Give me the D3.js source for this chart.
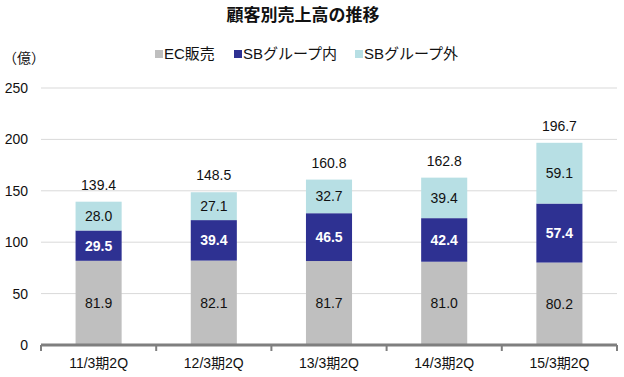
<!DOCTYPE html>
<html>
<head>
<meta charset="utf-8">
<script src="https://cdn.jsdelivr.net/npm/d3@7"></script>
<style>
body { margin: 0; background: #fff; }
text { font-family: "Liberation Sans", "Noto Sans CJK JP", sans-serif; }
</style>
</head>
<body>
<script>
const svgWidth = 624
const svgHeight = 377

const margin = { top: 88, right: 7, bottom: 32, left: 41 }
const chartWidth = svgWidth - margin.left - margin.right
const chartHeight = svgHeight - margin.top - margin.bottom

const categories = ["11/3期2Q", "12/3期2Q", "13/3期2Q", "14/3期2Q", "15/3期2Q"]
const seriesNames = ["EC販売", "SBグループ内", "SBグループ外"]
const ecSales = [81.9, 82.1, 81.7, 81.0, 80.2]
const sbInside = [29.5, 39.4, 46.5, 42.4, 57.4]
const sbOutside = [28.0, 27.1, 32.7, 39.4, 59.1]
const totals = [139.4, 148.5, 160.8, 162.8, 196.7]
const yTicks = [0, 50, 100, 150, 200, 250]

const colors = ["#bfbfbf", "#2e3192", "#b7dfe4"]
const labelColors = ["#111", "#fff", "#111"]

const rows = categories.map((c, i) => ({
    cat: c, "EC販売": ecSales[i], "SBグループ内": sbInside[i], "SBグループ外": sbOutside[i]
}))
const stacked = d3.stack().keys(seriesNames)(rows)

const svg = d3.select("body").append("svg")
    .attr("width", svgWidth)
    .attr("height", svgHeight)

const chartG = svg.append("g")
    .attr("transform", `translate(${margin.left}, ${margin.top})`)

const x = d3.scaleBand()
    .domain(categories)
    .range([0, chartWidth])
    .paddingInner(0.6)
    .paddingOuter(0.3)

const y = d3.scaleLinear()
    .domain([0, 250])
    .range([chartHeight, 0])

// grid lines
chartG.append("g")
    .selectAll("line")
    .data(yTicks.filter(d => d > 0))
    .join("line")
    .attr("x1", 0)
    .attr("x2", chartWidth)
    .attr("y1", d => y(d))
    .attr("y2", d => y(d))
    .attr("stroke", "#d9d9d9")

// y tick labels
chartG.append("g")
    .selectAll("text")
    .data(yTicks)
    .join("text")
    .attr("x", -13)
    .attr("y", d => y(d))
    .attr("dy", "0.35em")
    .attr("text-anchor", "end")
    .attr("font-size", 14)
    .attr("fill", "#111")
    .text(d => d)

// bars
const layer = chartG.selectAll(".layer")
    .data(stacked)
    .join("g")
    .attr("fill", (d, i) => colors[i])

layer.selectAll("rect")
    .data(d => d)
    .join("rect")
    .attr("x", d => x(d.data.cat))
    .attr("y", d => y(d[1]))
    .attr("width", x.bandwidth())
    .attr("height", d => y(d[0]) - y(d[1]))

// segment labels
stacked.forEach((s, si) => {
    chartG.append("g")
        .selectAll("text")
        .data(s)
        .join("text")
        .attr("x", d => x(d.data.cat) + x.bandwidth() / 2)
        .attr("y", d => y((d[0] + d[1]) / 2))
        .attr("dy", "0.35em")
        .attr("text-anchor", "middle")
        .attr("font-size", 14)
        .attr("font-weight", si === 1 ? "bold" : "normal")
        .attr("fill", labelColors[si])
        .text(d => (d[1] - d[0]).toFixed(1))
})

// totals
chartG.append("g")
    .selectAll("text")
    .data(categories)
    .join("text")
    .attr("x", d => x(d) + x.bandwidth() / 2)
    .attr("y", (d, i) => y(totals[i]) - 12)
    .attr("text-anchor", "middle")
    .attr("font-size", 14)
    .attr("fill", "#111")
    .text((d, i) => totals[i].toFixed(1))

// x axis
const step = x.step()
const bounds = d3.range(categories.length + 1).map(i => i * step)
chartG.append("line")
    .attr("x1", 0)
    .attr("x2", chartWidth)
    .attr("y1", chartHeight)
    .attr("y2", chartHeight)
    .attr("stroke", "#7f7f7f")
    .attr("stroke-width", 3)

chartG.append("g")
    .selectAll("line")
    .data(bounds)
    .join("line")
    .attr("x1", d => d)
    .attr("x2", d => d)
    .attr("y1", chartHeight)
    .attr("y2", chartHeight + 6)
    .attr("stroke", "#7f7f7f")
    .attr("stroke-width", 2)

chartG.append("g")
    .selectAll("text")
    .data(categories)
    .join("text")
    .attr("x", d => x(d) + x.bandwidth() / 2)
    .attr("y", chartHeight + 23)
    .attr("text-anchor", "middle")
    .attr("font-size", 14)
    .attr("fill", "#111")
    .text(d => d)

// title
svg.append("text")
    .attr("x", 303)
    .attr("y", 21)
    .attr("text-anchor", "middle")
    .attr("font-size", 17)
    .attr("font-weight", "bold")
    .attr("fill", "#111")
    .text("顧客別売上高の推移")

// unit
svg.append("text")
    .attr("x", 3)
    .attr("y", 63)
    .attr("font-size", 14)
    .attr("fill", "#111")
    .text("（億）")

// legend
const legendX = [155, 234, 355]
const legend = svg.append("g")
    .selectAll("g")
    .data(seriesNames)
    .join("g")
    .attr("transform", (d, i) => `translate(${legendX[i]}, 54)`)

legend.append("rect")
    .attr("x", 0)
    .attr("y", -4)
    .attr("width", 8)
    .attr("height", 8)
    .attr("fill", (d, i) => colors[i])

legend.append("text")
    .attr("x", 9)
    .attr("dy", "0.35em")
    .attr("font-size", 15)
    .attr("fill", "#111")
    .text(d => d)
</script>
</body>
</html>
